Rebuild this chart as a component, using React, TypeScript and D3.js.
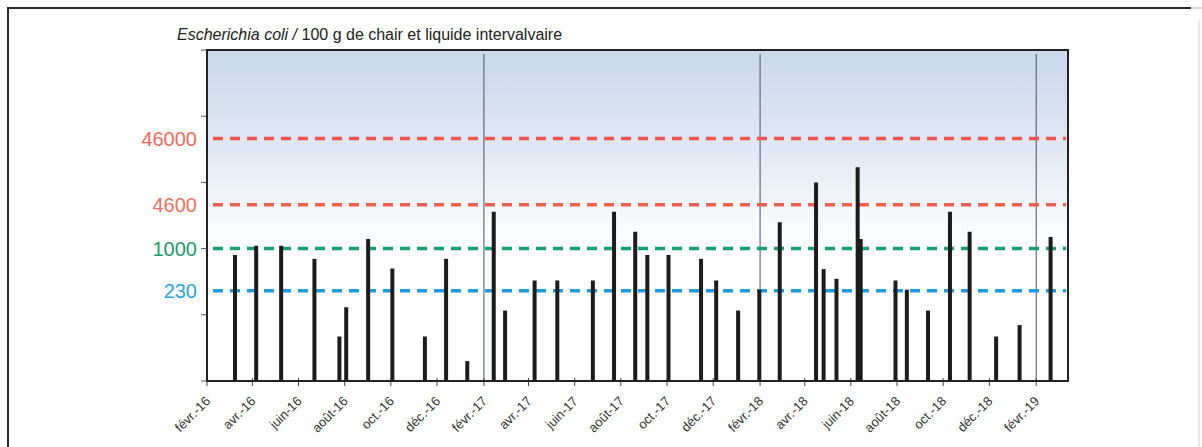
import React from "react";
import * as d3 from "d3";

// ---- data ----
const sampleDates = [
  "2016-03-09", "2016-04-06", "2016-05-09", "2016-06-22", "2016-07-25", "2016-08-03",
  "2016-09-01", "2016-10-03", "2016-11-15", "2016-12-13", "2017-01-10", "2017-02-14",
  "2017-03-01", "2017-04-09", "2017-05-09", "2017-06-25", "2017-07-23", "2017-08-20",
  "2017-09-05", "2017-10-03", "2017-11-15", "2017-12-05", "2018-01-03", "2018-01-31",
  "2018-02-27", "2018-04-16", "2018-04-26", "2018-05-13", "2018-06-10", "2018-06-14",
  "2018-07-30", "2018-08-14", "2018-09-11", "2018-10-10", "2018-11-05", "2018-12-10",
  "2019-01-10", "2019-02-20",
];
const ecoliValues = [
  800, 1100, 1100, 700, 47, 130,
  1400, 500, 47, 700, 20, 3600,
  116, 330, 330, 330, 3600, 1800,
  800, 800, 700, 330, 116, 240,
  2500, 10000, 490, 350, 17000, 1400,
  330, 240, 116, 3600, 1800, 47,
  70, 1500,
];
const thresholdValues = [46000, 4600, 1000, 230];
const thresholdLabels = ["46000", "4600", "1000", "230"];
const xTickDates = [
  "2016-02-01", "2016-04-01", "2016-06-01", "2016-08-01", "2016-10-01", "2016-12-01",
  "2017-02-01", "2017-04-01", "2017-06-01", "2017-08-01", "2017-10-01", "2017-12-01",
  "2018-02-01", "2018-04-01", "2018-06-01", "2018-08-01", "2018-10-01", "2018-12-01",
  "2019-02-01",
];
const xTickLabels = [
  "févr.-16", "avr.-16", "juin-16", "août-16", "oct.-16", "déc.-16",
  "févr.-17", "avr.-17", "juin-17", "août-17", "oct.-17", "déc.-17",
  "févr.-18", "avr.-18", "juin-18", "août-18", "oct.-18", "déc.-18",
  "févr.-19",
];
const yearSeparators = ["2017-02-01", "2018-02-01", "2019-02-01"];
const xDomain = ["2016-02-01", "2019-03-15"];
const yDomain = [10, 1000000];

// ---- styles ----
const thresholdLineColors = ["#f2564b", "#f2604e", "#12a173", "#1d9de0"];
const thresholdTextColors = ["#ef6a5c", "#ef6f5f", "#1b9a6c", "#2aa5e0"];

const parse = d3.timeParse("%Y-%m-%d");

export default function App() {
  const W = 1202, H = 447;
  const left = 207, right = 1068, top = 50, bottom = 381;

  const x = d3.scaleTime()
    .domain(xDomain.map((d) => parse(d) as Date))
    .range([left, right]);
  const y = d3.scaleLog().domain(yDomain).range([bottom, top]);
  const yTicks = [10, 100, 1000, 10000, 100000, 1000000];
  const font = "Arial, 'Liberation Sans', Helvetica, sans-serif";

  return (
    <svg
      width={W}
      height={H}
      viewBox={`0 0 ${W} ${H}`}
      style={{ position: "absolute", left: 0, top: 0, background: "#fff" }}
      fontFamily={font}
    >
      <defs>
        <linearGradient id="bg" x1="0" y1="0" x2="0" y2="1">
          <stop offset="0%" stopColor="#c9d8ed" />
          <stop offset="28%" stopColor="#dfe7f3" />
          <stop offset="48%" stopColor="#f4f7fb" />
          <stop offset="60%" stopColor="#ffffff" />
          <stop offset="100%" stopColor="#ffffff" />
        </linearGradient>
      </defs>

      {/* outer frame */}
      <polyline points={`8,460 8,8 1191,8`} fill="none" stroke="#2a2a2a" strokeWidth={2} />
      <line x1={1191} y1={8} x2={1202} y2={8} stroke="#cfcfcf" strokeWidth={1.5} />
      <line x1={1199} y1={20} x2={1199} y2={447} stroke="#e6e6e6" strokeWidth={1.5} />

      {/* title */}
      <text x={177} y={40} fontSize={16} fill="#222">
        <tspan fontStyle="italic">Escherichia coli /</tspan>
        <tspan> 100 g de chair et liquide intervalvaire</tspan>
      </text>

      {/* plot background */}
      <rect x={left} y={top} width={right - left} height={bottom - top} fill="url(#bg)" />

      {/* year separators */}
      {yearSeparators.map((d) => {
        const xx = x(parse(d) as Date);
        return (
          <line key={d} x1={xx} x2={xx} y1={top + 4} y2={bottom} stroke="#4a5060" strokeWidth={1} />
        );
      })}

      {/* threshold lines */}
      {thresholdValues.map((v, i) => (
        <line
          key={v}
          x1={left + 6}
          x2={right - 2}
          y1={y(v)}
          y2={y(v)}
          stroke={thresholdLineColors[i]}
          strokeWidth={3.5}
          strokeDasharray="10 7"
        />
      ))}

      {/* bars */}
      {sampleDates.map((d, i) => {
        const xx = x(parse(d) as Date);
        return (
          <line
            key={d + i}
            x1={xx}
            x2={xx}
            y1={bottom}
            y2={y(ecoliValues[i])}
            stroke="#1c1c1c"
            strokeWidth={4}
          />
        );
      })}

      {/* y ticks */}
      {yTicks.map((t) => (
        <line key={t} x1={left - 6} x2={left} y1={y(t)} y2={y(t)} stroke="#555" strokeWidth={1} />
      ))}

      {/* x ticks & labels */}
      {xTickDates.map((d, i) => {
        const xx = x(parse(d) as Date);
        return (
          <g key={d}>
            <line x1={xx} x2={xx} y1={bottom - 3} y2={bottom + 5} stroke="#444" strokeWidth={1} />
            <text
              x={xx + 4}
              y={402}
              fontSize={13}
              fill="#333"
              textAnchor="end"
              transform={`rotate(-45 ${xx + 4} 402)`}
            >
              {xTickLabels[i]}
            </text>
          </g>
        );
      })}

      {/* plot border */}
      <rect
        x={left}
        y={top}
        width={right - left}
        height={bottom - top}
        fill="none"
        stroke="#222"
        strokeWidth={2}
      />

      {/* threshold labels */}
      {thresholdValues.map((v, i) => (
        <text
          key={"l" + v}
          x={197}
          y={y(v)}
          dy="0.36em"
          fontSize={20}
          textAnchor="end"
          fill={thresholdTextColors[i]}
        >
          {thresholdLabels[i]}
        </text>
      ))}
    </svg>
  );
}
